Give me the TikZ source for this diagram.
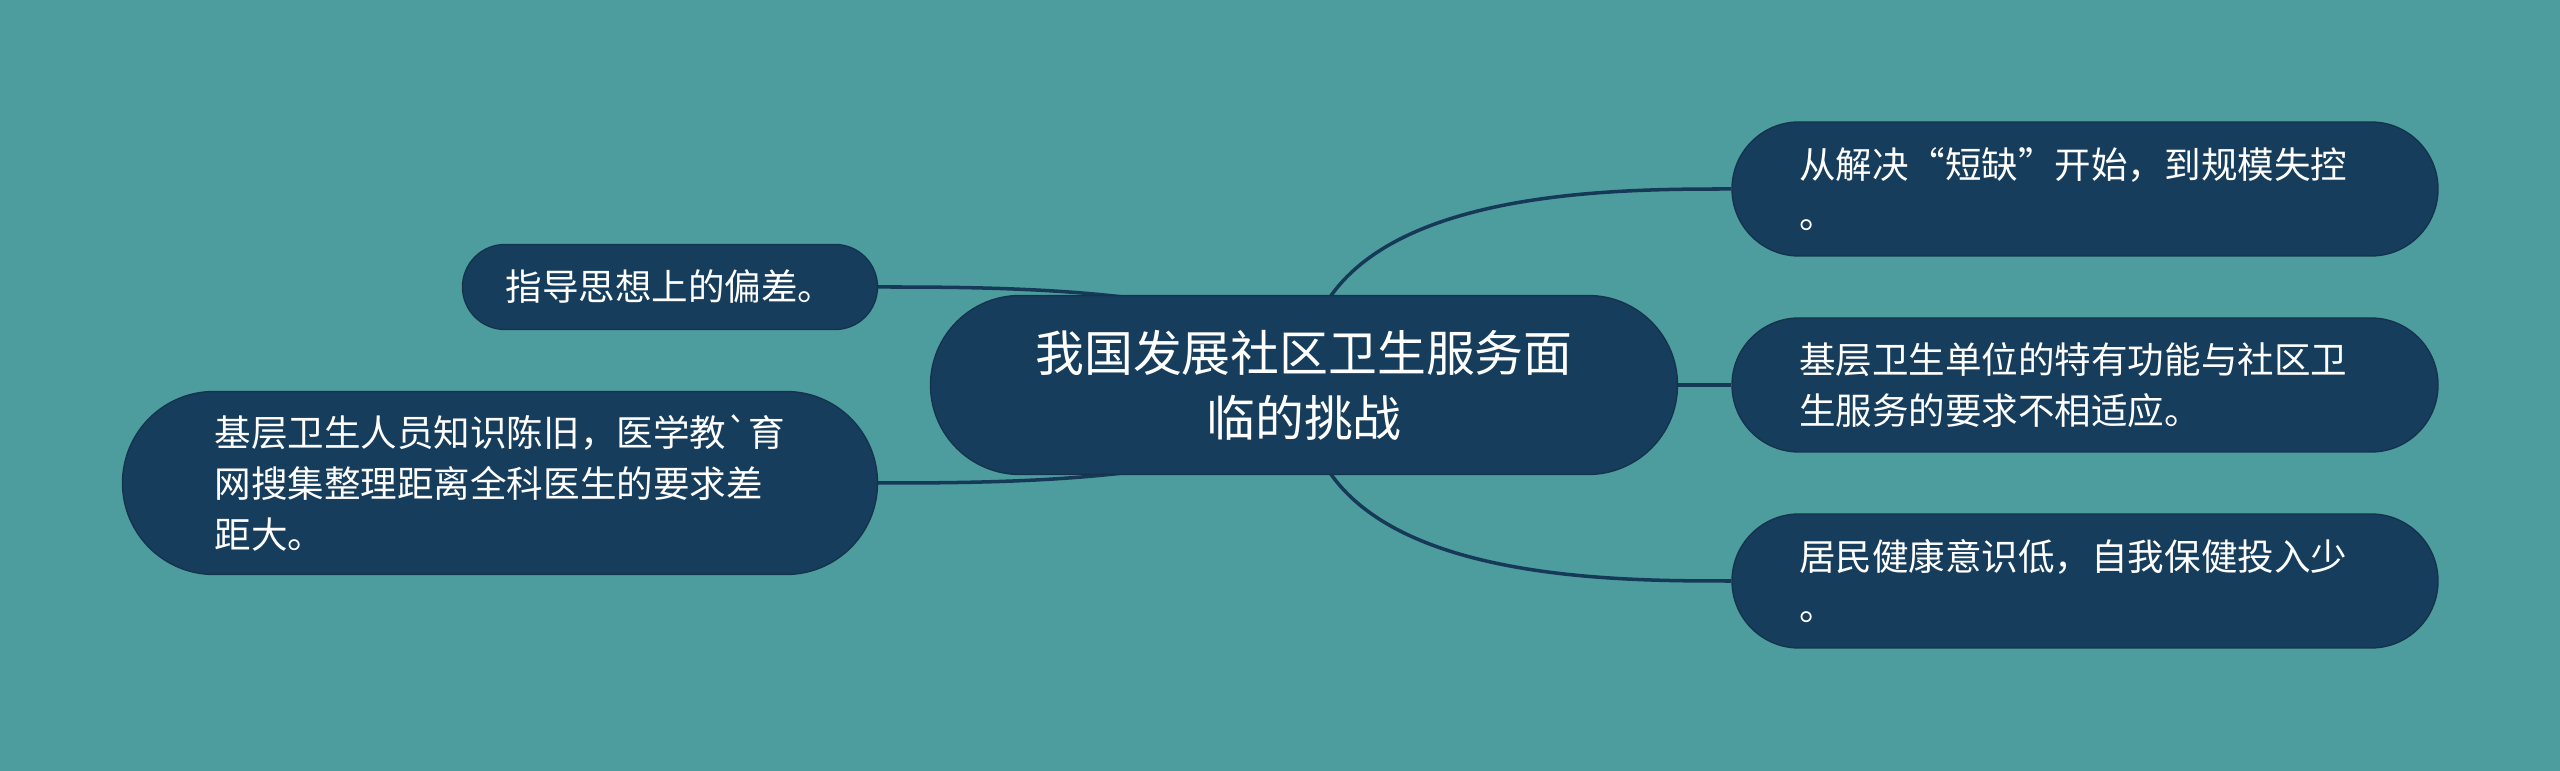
\documentclass[tikz,border=0pt]{standalone}
\usepackage{fontspec}
\setmainfont{Noto Sans CJK SC}
\newfontfamily\plaincjk{Noto Sans CJK SC}
\usetikzlibrary{calc}
\definecolor{bgteal}{RGB}{78,157,158}
\definecolor{navy}{RGB}{23,61,92}
\definecolor{linknavy}{RGB}{22,57,88}
\pgfdeclarelayer{bgfill}
\pgfdeclarelayer{links}
\pgfsetlayers{bgfill,links,main}

\begin{document}
\begin{tikzpicture}[
  topic/.style={fill=navy,draw=navy!85!black,line width=0.4pt,text=white,inner sep=0pt},
  sub/.style={topic,font=\fontsize{10.4}{14.4}\selectfont,align=left,text width=5.72cm,inner xsep=0.67cm,minimum height=1.34cm,rounded corners=0.67cm},
  hub/.style={topic,font=\fontsize{13.9}{18.5}\selectfont,align=center,minimum width=7.47cm,minimum height=1.79cm,rounded corners=0.895cm},
  link/.style={draw=linknavy,line width=1pt}]
\begin{pgfonlayer}{bgfill}
\fill[bgteal] (0,0) rectangle (25.6,7.71);
\end{pgfonlayer}
\node[hub] (c) at (13.04,3.86) {我国发展社区卫生服务面\\临的挑战};
\node[sub] (tr) at (20.85,5.82) {从解决“短缺”开始，到规模失控\\。};
\node[sub] (mr) at (20.85,3.86) {基层卫生单位的特有功能与社区卫\\生服务的要求不相适应。};
\node[sub] (br) at (20.85,1.90) {居民健康意识低，自我保健投入少\\。};
\node[topic,font=\fontsize{10.4}{14.4}\selectfont,minimum width=4.15cm,minimum height=0.85cm,rounded corners=0.425cm] (lt) at (6.70,4.84) {指导思想上的偏差。};
\node[sub,text width=5.71cm,inner xsep=0.92cm,minimum height=1.83cm,rounded corners=0.915cm] (lb) at (5.00,2.88) {基层卫生人员知识陈旧，医学教{\plaincjk`}育\\网搜集整理距离全科医生的要求差\\距大。};
\begin{pgfonlayer}{links}
\draw[link] (c.center) .. controls (c.center |- tr.west) and ([xshift=-1.32cm]tr.west) .. (tr.west);
\draw[link] (c.center) -- (mr.west);
\draw[link] (c.center) .. controls (c.center |- br.west) and ([xshift=-1.32cm]br.west) .. (br.west);
\draw[link] (c.center) .. controls (c.center |- lt.east) and ([xshift=1.32cm]lt.east) .. (lt.east);
\draw[link] (c.center) .. controls (c.center |- lb.east) and ([xshift=1.32cm]lb.east) .. (lb.east);
\end{pgfonlayer}
\end{tikzpicture}
\end{document}
